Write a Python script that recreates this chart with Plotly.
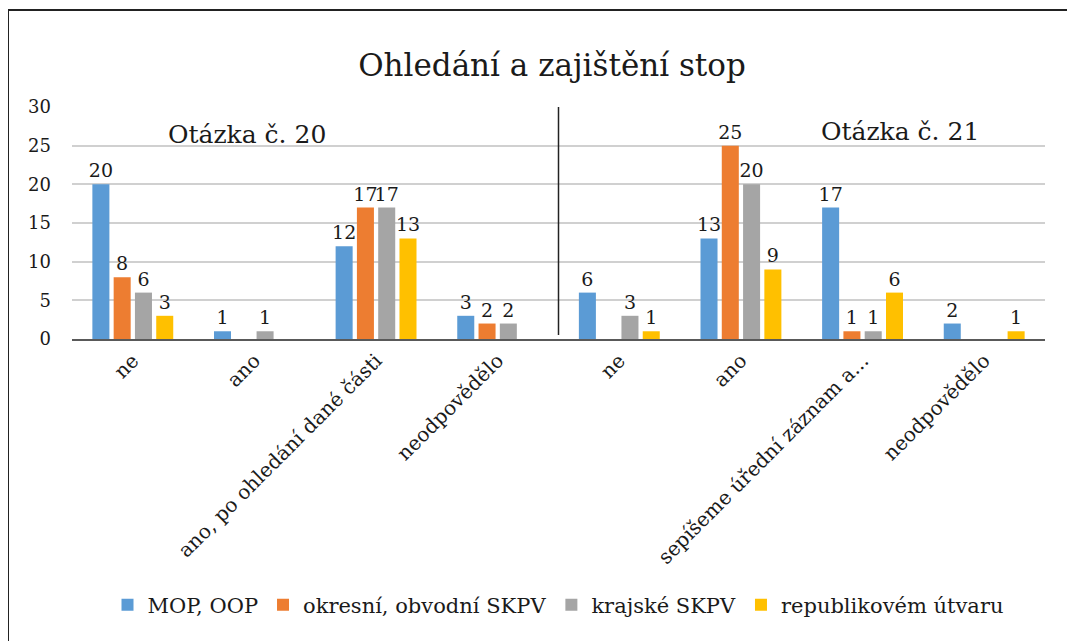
import plotly.graph_objects as go

categories = ["ne", "ano", "ano, po ohledání dané části", "neodpovědělo",
              "ne", "ano", "sepíšeme úřední záznam a...", "neodpovědělo"]
series_names = ["MOP, OOP", "okresní, obvodní SKPV", "krajské SKPV", "republikovém útvaru"]
mop_oop = [20, 1, 12, 3, 6, 13, 17, 2]
okresni = [8, 0, 17, 2, 0, 25, 1, 0]
krajske = [6, 1, 17, 2, 3, 20, 1, 0]
republikove = [3, 0, 13, 0, 1, 9, 6, 1]
colors = ["#5B9BD5", "#ED7D31", "#A5A5A5", "#FFC000"]
y_ticks = [0, 5, 10, 15, 20, 25, 30]
title_text = "Ohledání a zajištění stop"
group_labels = ["Otázka č. 20", "Otázka č. 21"]

W, H = 1075, 641
OFF = 8  # page body margin
# plot area in screenshot coordinates
PL, PR, PT, PB = 72, 1045, 107, 339
ML, MT = PL - OFF, PT - OFF
MR = W - (PR - OFF)
MB = H - (PB - OFF)
PW, PH = PR - PL, PB - PT

def px(x):
    return (x - PL) / PW

def py(y):
    return (PB - y) / PH

FONT = "DejaVu Serif"
TXT = "#1a1a1a"
xs = list(range(len(categories)))

fig = go.Figure()
for name, vals, col in zip(series_names, [mop_oop, okresni, krajske, republikove], colors):
    fig.add_trace(go.Bar(
        x=xs, y=vals, name=name, marker=dict(color=col, line=dict(width=0)),
        text=[str(v) if v else "" for v in vals],
        textposition="outside", cliponaxis=False, constraintext="none",
        textfont=dict(family=FONT, size=19, color=TXT),
    ))

fig.update_layout(
    width=W, height=H,
    margin=dict(l=ML, r=MR, t=MT, b=MB),
    paper_bgcolor="white", plot_bgcolor="white",
    barmode="group", bargap=0.3, bargroupgap=0.2,
    title=dict(text=title_text, x=px(552), xref="paper", xanchor="center",
               y=1 - (65 - OFF) / H, yanchor="middle", yref="container",
               font=dict(family=FONT, size=31, color=TXT)),
    font=dict(family=FONT, color=TXT),
    showlegend=True,
    legend=dict(orientation="h", x=px(558), xanchor="center", y=py(605), yanchor="middle",
                font=dict(family=FONT, size=21, color=TXT), itemwidth=30,
                traceorder="normal"),
    xaxis=dict(tickmode="array", tickvals=xs, ticktext=categories, tickangle=-45,
               range=[-0.5, len(categories) - 0.5],
               tickfont=dict(family=FONT, size=20, color=TXT),
               showline=True, linecolor="#595959", linewidth=2, ticks="",
               showgrid=False, zeroline=False),
    yaxis=dict(range=[0, 30], tickvals=y_ticks, showgrid=True, gridcolor="#D0D0D0",
               gridwidth=1.5, zeroline=False, showline=False, ticks="",
               tickfont=dict(family=FONT, size=18, color=TXT), ticklabelstandoff=20),
    shapes=[
        dict(type="line", xref="x", yref="paper", x0=3.5, x1=3.5, y0=py(107), y1=py(335),
             line=dict(color="#222", width=1.5)),
        dict(type="line", xref="paper", yref="paper", x0=px(8), x1=px(W + 20), y0=py(10), y1=py(10),
             line=dict(color="#222", width=2)),
        dict(type="line", xref="paper", yref="paper", x0=px(8), x1=px(8), y0=py(10), y1=py(H + 20),
             line=dict(color="#222", width=2)),
    ],
    annotations=[
        dict(text=group_labels[0], xref="paper", yref="paper", x=px(247), y=py(134),
             xanchor="center", yanchor="middle",
             showarrow=False, font=dict(family=FONT, size=25, color=TXT)),
        dict(text=group_labels[1], xref="paper", yref="paper", x=px(900), y=py(131),
             xanchor="center", yanchor="middle",
             showarrow=False, font=dict(family=FONT, size=25, color=TXT)),
    ],
)

fig.write_html("out.html")
